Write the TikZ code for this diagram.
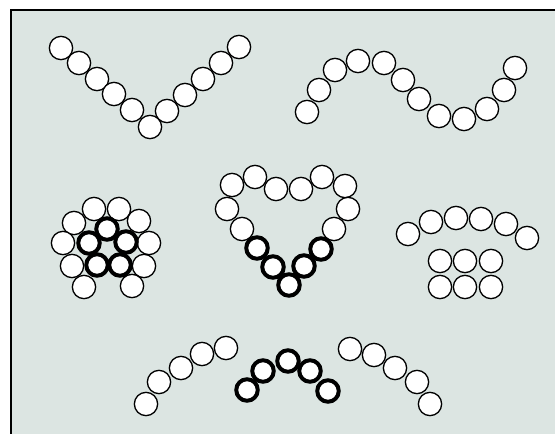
\documentclass[tikz,border=0pt]{standalone}
\definecolor{bgc}{RGB}{220,229,226}
\tikzset{
  ball/.style={circle,draw=black,fill=white,line width=1.3pt,minimum size=23.3pt,inner sep=0pt},
  boldball/.style={circle,draw=black,fill=white,line width=4pt,minimum size=21.5pt,inner sep=0pt}
}
\begin{document}
\begin{tikzpicture}[x=1pt,y=-1pt]
\useasboundingbox (0,0) rectangle (555,434);
\clip (0,0) rectangle (555,434);
\draw[fill=bgc,line width=1.2pt] (11,10) rectangle (570,450);
% V shape
\foreach \x/\y [count=\i] in {61/48,79/63,97/79,114/94,132/110,150/127,167/111,185/95,203/79,221/63,239/47}
  \node[ball] (v\i) at (\x,\y) {};
% wave
\foreach \x/\y [count=\i] in {307/112,319/90,335/70,358/61,384/63,403/80,419/99,439/116,464/119,487/109,504/90,515/68}
  \node[ball] (w\i) at (\x,\y) {};
% flower outer
\foreach \x/\y [count=\i] in {94/209,119/209,74/223,139/221,63/243,149/243,72/266,144/266,84/287,132/286}
  \node[ball] (f\i) at (\x,\y) {};
% flower inner
\foreach \x/\y [count=\i] in {107/229,89/243,126/242,97/265,120/265}
  \node[boldball] (g\i) at (\x,\y) {};
% heart white
\foreach \x/\y [count=\i] in {232/185,255/177,276/189,301/189,322/177,345/186,348/209,334/229,242/229,227/209}
  \node[ball] (h\i) at (\x,\y) {};
% heart bold
\foreach \x/\y [count=\i] in {257/248,273/267,289/285,304/266,321/249}
  \node[boldball] (k\i) at (\x,\y) {};
% arc right middle
\foreach \x/\y [count=\i] in {408/234,431/222,456/218,481/219,506/224,527/238}
  \node[ball] (a\i) at (\x,\y) {};
% grid
\foreach \x/\y [count=\i] in {440/261,465/261,491/261,440/287,465/287,491/287}
  \node[ball] (q\i) at (\x,\y) {};
% bottom left arc
\foreach \x/\y [count=\i] in {146/404,159/382,181/368,202/354,226/348}
  \node[ball] (l\i) at (\x,\y) {};
% bottom bold arc
\foreach \x/\y [count=\i] in {247/390,263/371,288/361,310/371,328/391}
  \node[boldball] (m\i) at (\x,\y) {};
% bottom right arc
\foreach \x/\y [count=\i] in {350/349,374/355,395/368,417/382,430/404}
  \node[ball] (r\i) at (\x,\y) {};
\end{tikzpicture}
\end{document}
